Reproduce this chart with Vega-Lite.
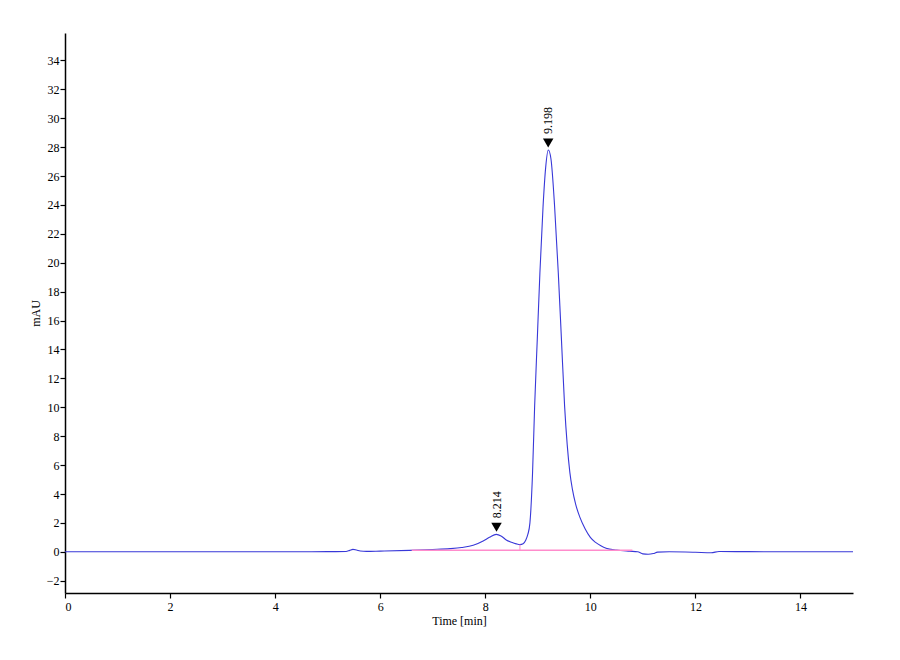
{
  "$schema": "https://vega.github.io/schema/vega-lite/v6.json",
  "autosize": {"type": "none"},
  "padding": {"left": 65, "top": 33, "right": 47, "bottom": 67},
  "width": 788,
  "height": 560,
  "background": "white",
  "datasets": {
    "signal": [
      {"t": 0, "mAU": 0}, {"t": 1, "mAU": 0}, {"t": 2, "mAU": 0}, {"t": 3, "mAU": 0},
      {"t": 4, "mAU": 0}, {"t": 4.5, "mAU": 0}, {"t": 5.0, "mAU": 0.01}, {"t": 5.35, "mAU": 0.02},
      {"t": 5.42, "mAU": 0.1}, {"t": 5.48, "mAU": 0.17}, {"t": 5.55, "mAU": 0.12}, {"t": 5.62, "mAU": 0.06},
      {"t": 5.74, "mAU": 0.03}, {"t": 6.0, "mAU": 0.05}, {"t": 6.56, "mAU": 0.1}, {"t": 7.0, "mAU": 0.16},
      {"t": 7.33, "mAU": 0.22}, {"t": 7.55, "mAU": 0.3}, {"t": 7.77, "mAU": 0.45}, {"t": 7.96, "mAU": 0.75},
      {"t": 8.08, "mAU": 1.0}, {"t": 8.21, "mAU": 1.21}, {"t": 8.3, "mAU": 1.1}, {"t": 8.4, "mAU": 0.82},
      {"t": 8.5, "mAU": 0.66}, {"t": 8.59, "mAU": 0.55}, {"t": 8.66, "mAU": 0.5}, {"t": 8.72, "mAU": 0.56},
      {"t": 8.77, "mAU": 0.8}, {"t": 8.81, "mAU": 1.2}, {"t": 8.85, "mAU": 2.0}, {"t": 8.9, "mAU": 5.45},
      {"t": 8.94, "mAU": 10.1}, {"t": 8.99, "mAU": 14.7}, {"t": 9.04, "mAU": 19.3}, {"t": 9.1, "mAU": 23.9},
      {"t": 9.15, "mAU": 26.6}, {"t": 9.2, "mAU": 27.8}, {"t": 9.25, "mAU": 27.2}, {"t": 9.32, "mAU": 23.9},
      {"t": 9.39, "mAU": 19.3}, {"t": 9.45, "mAU": 14.7}, {"t": 9.51, "mAU": 10.1}, {"t": 9.56, "mAU": 7.4},
      {"t": 9.61, "mAU": 5.5}, {"t": 9.66, "mAU": 4.3}, {"t": 9.72, "mAU": 3.3}, {"t": 9.8, "mAU": 2.4},
      {"t": 9.9, "mAU": 1.6}, {"t": 10.0, "mAU": 1.0}, {"t": 10.1, "mAU": 0.65}, {"t": 10.2, "mAU": 0.42},
      {"t": 10.3, "mAU": 0.25}, {"t": 10.5, "mAU": 0.12}, {"t": 10.75, "mAU": 0.04},
      {"t": 10.9, "mAU": 0.0}, {"t": 11.0, "mAU": -0.14}, {"t": 11.1, "mAU": -0.17}, {"t": 11.2, "mAU": -0.12},
      {"t": 11.28, "mAU": -0.02}, {"t": 11.5, "mAU": 0.0}, {"t": 12.0, "mAU": -0.03}, {"t": 12.3, "mAU": -0.06},
      {"t": 12.45, "mAU": 0.02}, {"t": 13, "mAU": 0.01}, {"t": 14, "mAU": 0.0}, {"t": 15, "mAU": 0.0}
    ],
    "baseline": [
      {"t": 6.6, "mAU": 0.1},
      {"t": 10.8, "mAU": 0.1}
    ],
    "split": [
      {"t": 8.66, "lo": 0.1, "hi": 0.5}
    ],
    "peaks": [
      {"t": 8.214, "mAU": 1.21, "label": "8.214"},
      {"t": 9.198, "mAU": 27.8, "label": "9.198"}
    ]
  },
  "layer": [
    {
      "data": {"name": "signal"},
      "mark": {"type": "line", "color": "#3838d8", "strokeWidth": 1.1, "interpolate": "monotone"},
      "encoding": {
        "x": {
          "field": "t",
          "type": "quantitative",
          "title": "Time [min]",
          "scale": {"domain": [0, 15], "nice": false},
          "axis": {"values": [0, 2, 4, 6, 8, 10, 12, 14], "format": "d"}
        },
        "y": {
          "field": "mAU",
          "type": "quantitative",
          "title": "mAU",
          "scale": {"domain": [-2.85, 35.9], "nice": false, "zero": false},
          "axis": {"values": [-2, 0, 2, 4, 6, 8, 10, 12, 14, 16, 18, 20, 22, 24, 26, 28, 30, 32, 34], "tickCount": 30, "format": "d"}
        }
      }
    },
    {
      "data": {"name": "baseline"},
      "mark": {"type": "line", "color": "#ff8ccc", "strokeWidth": 1.5},
      "encoding": {
        "x": {"field": "t", "type": "quantitative"},
        "y": {"field": "mAU", "type": "quantitative"}
      }
    },
    {
      "data": {"name": "split"},
      "mark": {"type": "rule", "color": "#ff8ccc", "strokeWidth": 1},
      "encoding": {
        "x": {"field": "t", "type": "quantitative"},
        "y": {"field": "lo", "type": "quantitative"},
        "y2": {"field": "hi"}
      }
    },
    {
      "data": {"name": "peaks"},
      "mark": {"type": "point", "shape": "triangle-down", "filled": true, "color": "black", "size": 110, "opacity": 1, "yOffset": -7},
      "encoding": {
        "x": {"field": "t", "type": "quantitative"},
        "y": {"field": "mAU", "type": "quantitative"}
      }
    },
    {
      "data": {"name": "peaks"},
      "mark": {"type": "text", "angle": 270, "align": "left", "baseline": "middle", "font": "Liberation Serif", "fontSize": 12, "color": "black", "yOffset": -16},
      "encoding": {
        "x": {"field": "t", "type": "quantitative"},
        "y": {"field": "mAU", "type": "quantitative"},
        "text": {"field": "label"}
      }
    }
  ],
  "config": {
    "view": {"stroke": null},
    "font": "Liberation Serif",
    "axis": {
      "grid": false,
      "labelOverlap": false,
      "domainColor": "black",
      "domainWidth": 1.5,
      "tickColor": "black",
      "tickWidth": 1.2,
      "tickSize": 5,
      "labelFont": "Liberation Serif",
      "labelFontSize": 12,
      "labelColor": "black",
      "titleFont": "Liberation Serif",
      "titleFontSize": 12,
      "titleFontWeight": "normal",
      "titleColor": "black"
    },
    "axisX": {"labelPadding": 3, "titlePadding": 3},
    "axisY": {"labelPadding": 1, "titlePadding": 4}
  }
}
